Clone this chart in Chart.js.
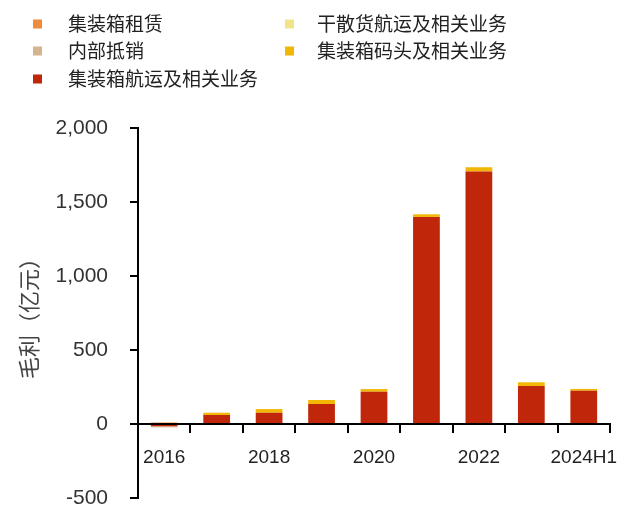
<!DOCTYPE html>
<html>
<head>
<meta charset="utf-8">
<script src="https://cdn.jsdelivr.net/npm/chart.js@4/dist/chart.umd.min.js"></script>
<style>
  html, body { margin: 0; padding: 0; background: #fff; }
  #wrap { width: 633px; height: 514px; }
</style>
</head>
<body>
<div id="wrap"><canvas id="c" width="633" height="514"></canvas></div>
<script>
// 毛利分业务（亿元）
const categories = ['2016', '2017', '2018', '2019', '2020', '2021', '2022', '2023', '2024H1'];
const containerShipping = [-15, 61, 76, 135, 218, 1399, 1706, 257, 225];   // 集装箱航运及相关业务
const containerTerminal = [0, 15, 25, 27, 18, 18, 29, 25, 12];             // 集装箱码头及相关业务
const internalOffset    = [-8, 0, 0, 0, 0, 0, 0, 0, 0];                     // 内部抵销
const containerLeasing  = [10, 0, 0, 0, 0, 0, 0, 0, 0];                     // 集装箱租赁
const dryBulk           = [0, 0, 0, 0, 0, 0, 0, 0, 0];                      // 干散货航运及相关业务
const shownYearLabels = ['2016', '2018', '2020', '2022', '2024H1'];
const yMin = -500, yMax = 2000, yStep = 500;

const COLORS = {
  shipping: '#C0260A',
  terminal: '#F2B705',
  offset:   '#D4B48E',
  leasing:  '#F08A3C',
  bulk:     '#EFE48C'
};

// legend grid: [dataset index, column, row]
const legendLayout = [[3, 0, 0], [4, 1, 0], [2, 0, 1], [1, 1, 1], [0, 0, 2]];

const gridLegend = {
  id: 'gridLegend',
  afterDraw(chart) {
    const ctx = chart.ctx;
    const colX = [33, 285];
    const textGap = [35, 32];
    const rowY = [24, 51, 79];
    ctx.save();
    ctx.font = '19px "Noto Sans CJK SC", sans-serif';
    ctx.textBaseline = 'middle';
    ctx.textAlign = 'left';
    legendLayout.forEach(([di, col, row]) => {
      const ds = chart.data.datasets[di];
      const x = colX[col], y = rowY[row];
      ctx.fillStyle = ds.backgroundColor;
      ctx.fillRect(x, y - 4.5, 9, 9);
      ctx.fillStyle = '#222';
      ctx.fillText(ds.label, x + textGap[col], y);
    });
    ctx.restore();
  }
};

new Chart(document.getElementById('c'), {
  type: 'bar',
  data: {
    labels: categories,
    datasets: [
      { label: '集装箱航运及相关业务', data: containerShipping, backgroundColor: COLORS.shipping },
      { label: '集装箱码头及相关业务', data: containerTerminal, backgroundColor: COLORS.terminal },
      { label: '内部抵销', data: internalOffset, backgroundColor: COLORS.offset },
      { label: '集装箱租赁', data: containerLeasing, backgroundColor: COLORS.leasing },
      { label: '干散货航运及相关业务', data: dryBulk, backgroundColor: COLORS.bulk }
    ]
  },
  options: {
    responsive: false,
    animation: false,
    devicePixelRatio: 1,
    categoryPercentage: 1,
    barPercentage: 0.51,
    layout: { padding: { top: 128, right: 23, bottom: 0, left: 0 } },
    plugins: {
      legend: { display: false },
      tooltip: { enabled: false }
    },
    scales: {
      x: {
        stacked: true,
        position: { y: 0 },
        offset: true,
        afterFit: (s) => { s.height = 0; },
        grid: {
          display: true, offset: true, drawOnChartArea: false, drawTicks: true,
          tickLength: 8, color: '#000', lineWidth: 2
        },
        border: { display: true, color: '#000', width: 2 },
        ticks: {
          autoSkip: false, maxRotation: 0, padding: 14,
          color: '#222',
          font: { family: '"Liberation Sans", Arial, sans-serif', size: 19 },
          callback: (v, i) => shownYearLabels.includes(categories[i]) ? categories[i] : ''
        }
      },
      y: {
        stacked: true,
        min: yMin, max: yMax,
        afterFit: (s) => { s.width = 138; s.paddingTop = 12; s.paddingBottom = 16; },
        grid: {
          display: true, drawOnChartArea: false, drawTicks: true,
          tickLength: 8, color: '#000', lineWidth: 2
        },
        border: { display: true, color: '#000', width: 2 },
        ticks: {
          stepSize: yStep, padding: 22,
          color: '#333',
          font: { family: '"Liberation Sans", Arial, sans-serif', size: 21 },
          callback: (v) => v.toLocaleString('en-US')
        },
        title: {
          display: true,
          text: '毛利（亿元）',
          color: '#444',
          font: { family: '"Noto Sans CJK SC", sans-serif', size: 22 },
          padding: { top: 15, bottom: 0 }
        }
      }
    }
  },
  plugins: [gridLegend]
});
</script>
</body>
</html>
